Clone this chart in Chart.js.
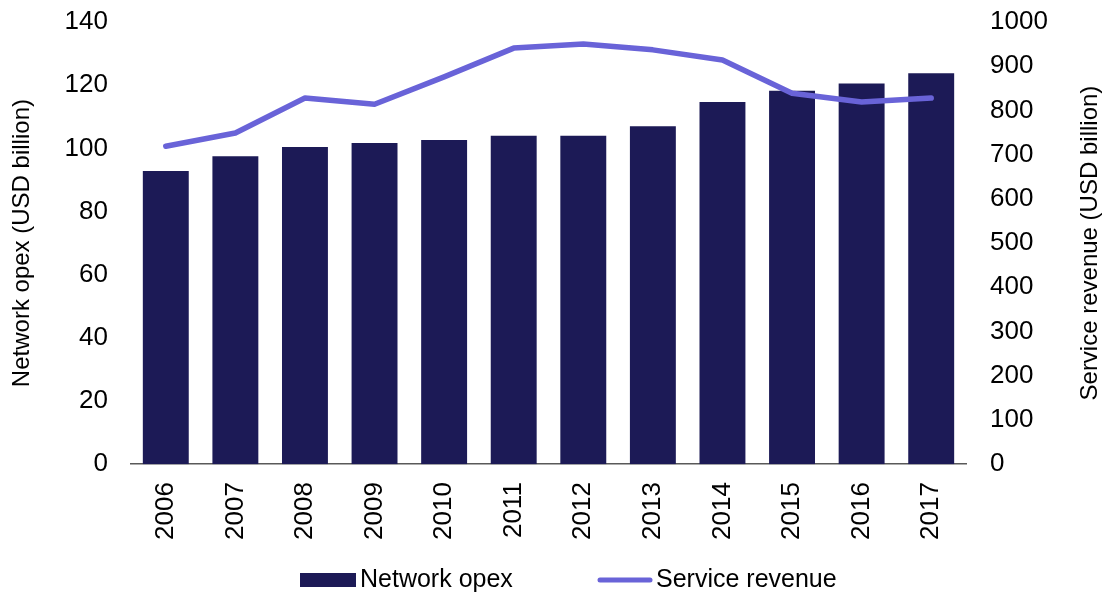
<!DOCTYPE html>
<html>
<head>
<meta charset="utf-8">
<script src="https://cdn.jsdelivr.net/npm/chart.js@4.4.1/dist/chart.umd.min.js"></script>
<style>
  html, body { margin: 0; padding: 0; background: #fff; }
  #wrap { width: 1104px; height: 595px; position: relative; }
</style>
</head>
<body>
<div id="wrap"><canvas id="myChart"></canvas></div>
<script>
const years = ["2006", "2007", "2008", "2009", "2010", "2011", "2012", "2013", "2014", "2015", "2016", "2017"];
const networkOpex = [92.8, 97.5, 100.4, 101.7, 102.6, 104, 104, 107, 114.7, 118.2, 120.5, 123.8];
const serviceRevenue = [719, 749, 828, 814, 876, 941, 950, 937, 914, 839, 819, 828];
const opexTicks = [0, 20, 40, 60, 80, 100, 120, 140];
const revenueTicks = [0, 100, 200, 300, 400, 500, 600, 700, 800, 900, 1000];

const FONT = "'Liberation Sans', Arial, sans-serif";
const navy = "#1c1a56";
const violet = "#6963d8";

const data = {
  labels: years,
  datasets: [
    {
      type: "bar",
      label: "Network opex",
      data: networkOpex,
      backgroundColor: navy,
      borderWidth: 0,
      barPercentage: 0.66,
      categoryPercentage: 1,
      yAxisID: "y",
      order: 2,
    },
    {
      type: "line",
      label: "Service revenue",
      data: serviceRevenue,
      borderColor: violet,
      backgroundColor: violet,
      borderWidth: 5.5,
      borderCapStyle: "round",
      borderJoinStyle: "round",
      pointRadius: 0,
      tension: 0,
      yAxisID: "y1",
      order: 1,
    },
  ],
};

// legend + right axis title drawn by hand so spacing/rotation match
const extras = {
  id: "extras",
  afterDraw(chart) {
    const ctx = chart.ctx;
    const area = chart.chartArea;
    ctx.save();
    ctx.fillStyle = "#000";
    ctx.font = "24px " + FONT;
    ctx.textAlign = "center";
    ctx.textBaseline = "middle";
    ctx.translate(1090, (area.top + area.bottom) / 2);
    ctx.rotate(-Math.PI / 2);
    ctx.fillText(chart.options.scales.y1.title.text, 0, 0);
    ctx.restore();

    const ly = 580;
    const bar = chart.data.datasets[0];
    const line = chart.data.datasets[1];
    ctx.save();
    ctx.font = "25px " + FONT;
    ctx.textBaseline = "middle";
    ctx.textAlign = "left";
    ctx.fillStyle = bar.backgroundColor;
    ctx.fillRect(300, ly - 7, 56, 14);
    ctx.fillStyle = "#000";
    ctx.fillText(bar.label, 360, ly);
    ctx.strokeStyle = line.borderColor;
    ctx.lineWidth = 5;
    ctx.lineCap = "round";
    ctx.beginPath();
    ctx.moveTo(600, ly);
    ctx.lineTo(650, ly);
    ctx.stroke();
    ctx.fillText(line.label, 656, ly);
    ctx.restore();
  },
};

// keep the plot area edges where the reference has them
function noOverhang(s) {
  s.paddingTop = 0;
  s.paddingBottom = 0;
}

// config
const config = {
  data,
  plugins: [extras],
  options: {
    responsive: true,
    maintainAspectRatio: false,
    animation: false,
    layout: { padding: { top: 22, left: 0, right: 0, bottom: 37 } },
    plugins: {
      tooltip: { enabled: false },
      legend: { display: false },
    },
    scales: {
      x: {
        grid: { display: false, drawTicks: false },
        border: { display: true, color: "#595959", width: 1.5 },
        ticks: {
          minRotation: 90,
          maxRotation: 90,
          padding: 18,
          color: "#000",
          font: { family: FONT, size: 26 },
        },
      },
      y: {
        position: "left",
        min: 0,
        max: 140,
        afterBuildTicks: (s) => { s.ticks = opexTicks.map((v) => ({ value: v })); },
        afterFit: (s) => { s.width = 131; noOverhang(s); },
        grid: { display: false, drawTicks: false },
        border: { display: false },
        ticks: { padding: 23, color: "#000", font: { family: FONT, size: 26 } },
        title: {
          display: true,
          text: "Network opex (USD billion)",
          color: "#000",
          font: { family: FONT, size: 24 },
          padding: { top: 8, bottom: 0 },
        },
      },
      y1: {
        position: "right",
        min: 0,
        max: 1000,
        afterBuildTicks: (s) => { s.ticks = revenueTicks.map((v) => ({ value: v })); },
        afterFit: (s) => { s.width = 138; noOverhang(s); },
        grid: { display: false, drawTicks: false },
        border: { display: false },
        ticks: {
          padding: 24,
          color: "#000",
          font: { family: FONT, size: 26 },
          callback: (v) => String(v),
        },
        title: { display: false, text: "Service revenue (USD billion)" },
      },
    },
  },
};

// render init block
const myChart = new Chart(document.getElementById("myChart"), config);
</script>
</body>
</html>
